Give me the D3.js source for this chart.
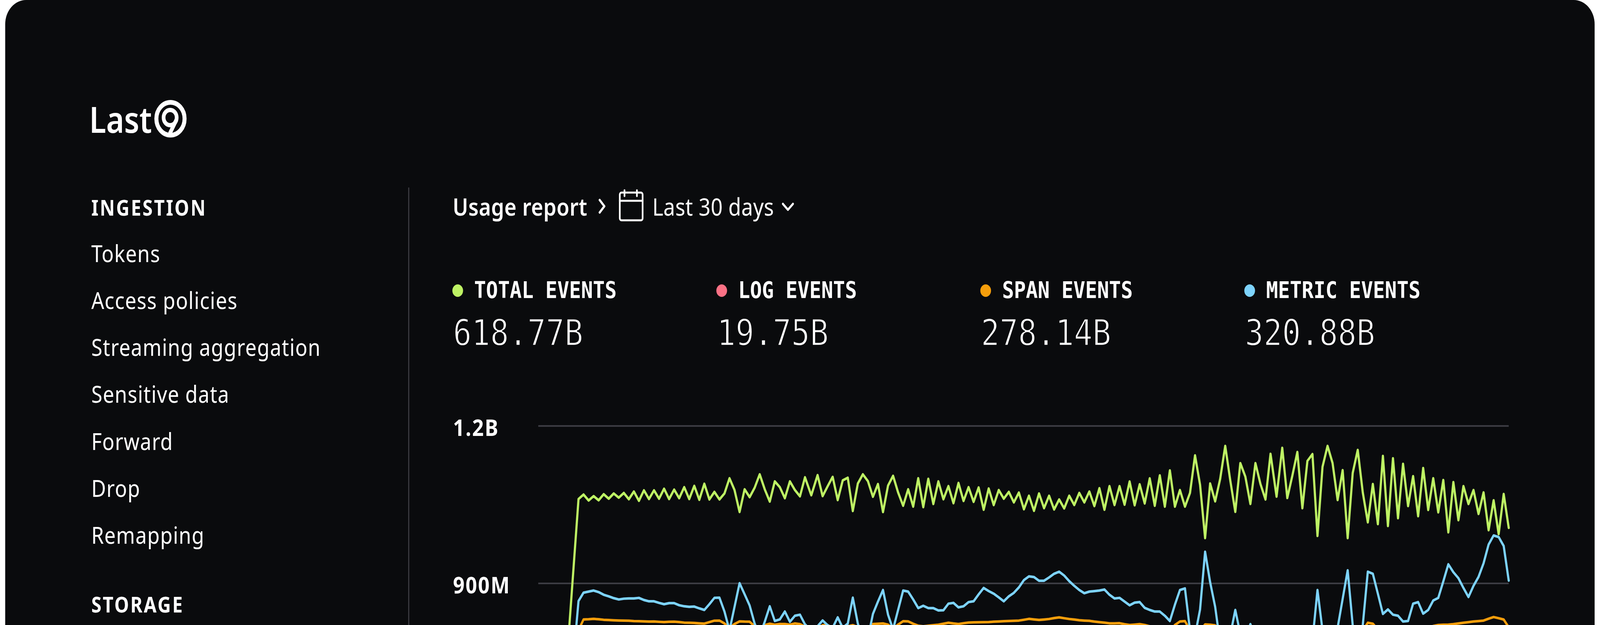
<!DOCTYPE html>
<html><head><meta charset="utf-8">
<script src="https://cdn.jsdelivr.net/npm/d3@7"></script>
<style>html,body{margin:0;padding:0;background:#fff;overflow:hidden;width:100%;height:100%}svg{display:block;width:100vw;height:100vh}</style>
</head><body><svg id="c" viewBox="0 0 4768 1600" preserveAspectRatio="none"></svg>
<script>
const navIngestion = ["Tokens","Access policies","Streaming aggregation","Sensitive data","Forward","Drop","Remapping"];
const navHeadings = ["INGESTION","STORAGE"];
const legendNames = ["TOTAL EVENTS","LOG EVENTS","SPAN EVENTS","METRIC EVENTS"];
const legendTotals = ["618.77B","19.75B","278.14B","320.88B"];
const legendColors = ["#bef264","#fb7185","#f59e0b","#7dd3fc"];
const yTickValues = [1200,900];
const yTickLabels = ["1.2B","900M"];

const totalEvents = [0,
1060.4,1069,1057.6,1066,1058,1069.6,1061,1071,1063,1072,
1060,1074.7,1057,1077,1060.4,1077,1061,1080,1060.4,1078.4,
1062,1083,1060.4,1085.5,1059,1089.5,1059.6,1074,1059.6,1071,
1100,1077.5,1035.7,1079,1064,1082,1107.5,1079,1055.6,1094,
1083,1062,1094,1077.5,1065.6,1101.8,1067.6,1106,1066,1084.7,
1102.6,1058.5,1096,1101,1037.6,1090,1107.5,1094.6,1064.7,1089,
1035.7,1086,1104.6,1073,1047.6,1079,1046,1100,1045,1099,
1051,1094,1060,1085,1052.5,1091,1056.7,1083,1055,1082.4,
1040,1080.4,1049,1077.5,1061,1074,1054,1072.7,1041,1066.7,
1038,1071,1043,1066.7,1040.5,1059.6,1042.5,1066.7,1049,1072,
1054,1074.7,1047,1081,1040,1085,1049,1085,1049.6,1093.8,
1048.5,1088.4,1052,1099.8,1047.6,1105.5,1046,1115,1046,1077.5,
1046,1072,1143.6,1087.5,986,1090,1056,1099,1161.6,1096,
1036,1128.8,1103,1051,1128.8,1089,1059.6,1146.5,1065,1158,
1062.4,1104.6,1150,1043,1133,1146,990,1121.7,1161.6,1128.8,
1058.5,1115.4,986,1110,1154,1073,1016,1089,1012.6,1142.5,
1009,1138,1024,1127.4,1047,1104,1027.7,1119.4,1039.6,1100,
1035,1096.6,997,1092.6,1020,1085,1051,1077.5,1032,1073,
1001,1058,993.5,1070,1005.5];

const spanEvents = [0,
810.4,831,831.3,832,831.3,830.3,829.8,829.3,829,828.8,
828.5,827.8,827.6,827.3,826.9,827.1,826.4,825.9,826.4,826.6,
825.9,824.9,824.7,824.2,823.5,823,825.9,828.6,828.8,823.3,
815,822.3,827.3,826.8,826.6,818,810,820,822.8,820.9,
822.3,822.3,821,823.3,822,817.4,810,813,820,820,
815,818,815,818,820,816.6,810,815,822.3,822.8,
823.3,820.9,814,821,827.6,827.3,822.8,819,818,819,
820,821,822.8,824.6,823.3,822.3,823.8,825,825.3,825.6,
825.8,826,826.6,827,827.6,828,828.3,828.8,830.3,832,
831,830,830.8,831.8,833.5,834.8,833.3,831.8,830.8,829.5,
828.8,828.3,826.8,825.8,824.8,823.6,823.6,823.8,821.8,820.4,
821.1,822,820.4,818,810,808,808,808,820.4,827,
827.8,810,808,810,821.4,821,819.6,808,800,795,
805,798,795,806,796,790,785,782,780,785,
790,792,788,790,795,800,806,797,792,790,
800,808,812,806,800,810,824.6,822.8,812,808,
810,806,805,803,804,812,814,808,812,818.6,
820.4,820.9,821.1,822,823.3,824.6,825.8,827,827.8,828.8,
832.3,835.5,833.3,830.8,816];

const metricEvents = [0,
866,882,884,886,883,878,875,871.5,869,870.5,
871,871,872,868,865.5,865.5,862.5,860,862,862,
858,856,855,855.5,852,849,860,872,872.5,846,
810,855,900,879,857.5,823,800,826.5,856,828,
831,846,826.5,838,840,821.6,810,818,829,820,
815,835,815,823,872.5,823,795,795,841.5,865,
887,840,812,849,886,884,869,852.6,857,852.6,
852.6,848,848.4,861,862.5,854,856,864,865.5,878.7,
891,885,880,873,865.5,875,881.6,892,906,913,
911.7,904.7,904.7,911,918,922,914.6,904,895,887,
881,884,885,886,888,878,871,872,865,858,
863,864,853,849,846,846,838,828,859,887,
890,810,800,850,960,902,855,785,775,801,
849,803,795,822,795,770,760,755,750,760,
770,775,765,770,780,790,887,810,775,770,
815,870,924.6,820,785,820,922,918,880,841.5,
850,840,838,827,828,861,864,842,849,867,
872,903.5,936,921,909.7,891,873.7,895,912,938,
973.7,991,988,971,905];

// sample slots: the feed starts eight slots before the first reading and has two short delays
const slots = [-8].concat(d3.range(185).map(i => i<=45 ? i : i===46 ? 46.25 : i<=137 ? i+0.5 : i===138 ? 138.7 : i+0.83));

const SANS = "'Noto Sans', 'Open Sans', sans-serif";
const MONO = "'DejaVu Sans Mono', monospace";
const BG = "#0a0b0d";
const svg = d3.select("#c");
svg.append("rect").attr("x",15.5).attr("y",0).attr("width",4736.5).attr("height",1800).attr("rx",62).attr("fill",BG);

// logo
const logo = svg.append("g").attr("fill","#fff");
logo.append("text").attr("x",266).attr("y",340).attr("font-family",SANS).attr("font-weight",600).attr("font-size",92).text("Last");
const logoRing = svg.append("g").attr("fill","none").attr("stroke","#fff");
logoRing.append("circle").attr("cx",508).attr("cy",304).attr("r",42).attr("stroke-width",12);
logoRing.append("circle").attr("cx",507).attr("cy",301).attr("r",19.5).attr("stroke-width",11);
logoRing.append("path").attr("d",d3.line()([[526,306],[506,342]])).attr("stroke-width",11);

// sidebar
const side = svg.append("g").attr("fill","#fff").attr("font-family",SANS);
side.append("text").attr("x",272).attr("y",552).attr("font-size",55).attr("font-weight",700).attr("letter-spacing",4).text(navHeadings[0]);
const rowY = d3.scaleLinear().domain([0,6]).range([671,1392]);
side.selectAll("text.nav").data(navIngestion).join("text").attr("class","nav")
  .attr("x",272).attr("y",(d,i)=>rowY(i)).attr("font-size",60).attr("letter-spacing",1.5).attr("font-weight",400).text(d=>d);
side.append("text").attr("x",272).attr("y",1568).attr("font-size",55).attr("font-weight",700).attr("letter-spacing",4).text(navHeadings[1]);
svg.append("line").attr("x1",1218).attr("x2",1218).attr("y1",480).attr("y2",1600).attr("stroke","#3f3f46").attr("stroke-width",3);

// breadcrumb
const head = svg.append("g").attr("fill","#fff").attr("font-family",SANS);
head.append("text").attr("x",1349).attr("y",552).attr("font-size",62).attr("letter-spacing",0.5).attr("font-weight",600).text("Usage report");
head.append("text").attr("x",1944).attr("y",552).attr("font-size",62).attr("letter-spacing",0.5).attr("font-weight",400).text("Last 30 days");
const icons = svg.append("g").attr("fill","none").attr("stroke","#fff").attr("stroke-linecap","round").attr("stroke-linejoin","round");
icons.append("path").attr("d",d3.line()([[1787,512],[1801,528],[1787,544]])).attr("stroke-width",6);
icons.append("rect").attr("x",1847).attr("y",493).attr("width",68).attr("height",71).attr("rx",5).attr("stroke-width",5);
icons.append("line").attr("x1",1847).attr("x2",1915).attr("y1",514).attr("y2",514).attr("stroke-width",5);
icons.append("line").attr("x1",1861).attr("x2",1861).attr("y1",487).attr("y2",502).attr("stroke-width",5);
icons.append("line").attr("x1",1898).attr("x2",1898).attr("y1",487).attr("y2",502).attr("stroke-width",5);
icons.append("path").attr("d",d3.line()([[2333,522],[2348,537],[2363,522]])).attr("stroke-width",6);

// legend
const colX = d3.scaleLinear().domain([0,3]).range([1352,3712]);
const lg = svg.append("g").selectAll("g").data(legendNames).join("g").attr("transform",(d,i)=>`translate(${colX(i)},0)`);
lg.append("circle").attr("cx",12).attr("cy",744).attr("r",16).attr("fill",(d,i)=>legendColors[i]);
lg.append("text").attr("x",61).attr("y",763.5).attr("font-family",MONO).attr("font-weight",700).attr("font-size",58.8).attr("fill","#fff").text(d=>d);
lg.append("text").attr("x",-2).attr("y",884).attr("font-family",MONO).attr("font-size",92).attr("fill","#fff")
  .attr("stroke",BG).attr("stroke-width",2.4).text((d,i)=>legendTotals[i]);

// chart
const x = d3.scaleLinear().domain([-8,d3.max(slots)]).range([1604,4496]);
const y = d3.scaleLinear().domain([0,1200]).range([2702,1090]);
const axis = d3.axisLeft(y).tickValues(yTickValues).tickSize(-(x.range()[1]-x.range()[0])).tickPadding(0)
  .tickFormat((d,i)=>yTickLabels[i]);
const ax = svg.append("g").attr("transform",`translate(${x.range()[0]},0)`).call(axis);
ax.select(".domain").remove();
ax.selectAll(".tick line").attr("stroke","#3f3f46").attr("stroke-width",4);
ax.selectAll(".tick text").attr("x",1350-1604).attr("dy",25).attr("text-anchor","start")
  .attr("font-family",SANS).attr("font-weight",700).attr("font-size",60).attr("letter-spacing",3).attr("fill","#fff");

const line = d3.line().x((d,i)=>x(slots[i])).y(d=>y(d));
[[totalEvents,legendColors[0]],[spanEvents,legendColors[2]],[metricEvents,legendColors[3]]].forEach(([vals,col])=>{
  svg.append("path").datum(vals).attr("d",line).attr("fill","none").attr("stroke",col)
    .attr("stroke-width",6.5).attr("stroke-linejoin","round").attr("stroke-linecap","round");
});
</script></body></html>
